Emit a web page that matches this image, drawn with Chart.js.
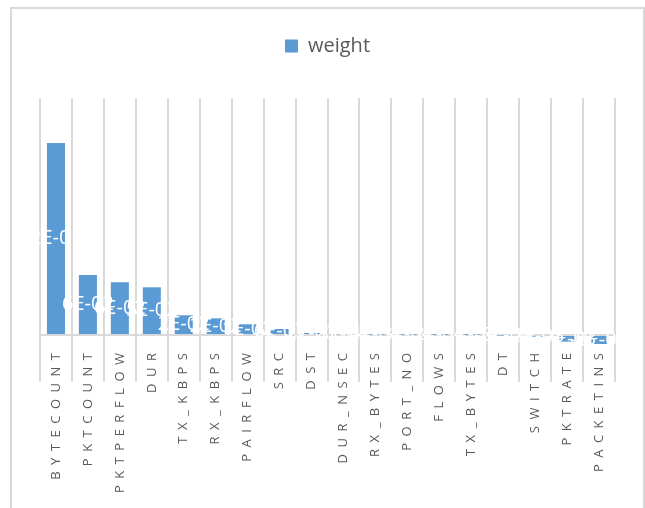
<!DOCTYPE html>
<html><head><meta charset="utf-8">
<script src="https://cdn.jsdelivr.net/npm/chart.js@4/dist/chart.umd.min.js"></script>
<style>
html,body{margin:0;padding:0;background:#fff;overflow:hidden}
#frame{position:absolute;left:10px;top:7px;width:635px;height:600px;box-sizing:border-box;border:2px solid #d9d9d9}
#c{position:absolute;left:0;top:0}
</style></head><body>
<div id="frame"></div>
<canvas id="c" width="645" height="508"></canvas>
<script>
const categories = ['BYTECOUNT','PKTCOUNT','PKTPERFLOW','DUR','TX_KBPS','RX_KBPS','PAIRFLOW','SRC','DST','DUR_NSEC','RX_BYTES','PORT_NO','FLOWS','TX_BYTES','DT','SWITCH','PKTRATE','PACKETINS'];
const weights = [0.2025, 0.0633, 0.0556, 0.0503, 0.0208, 0.0176, 0.0113, 0.0063, 0.0021, 0.0008, 0.0004, 0.0003, 0.0002, 0.0001, -0.0005, -0.0018, -0.007, -0.0095];
const seriesName = 'weight';
const yMin = -0.019;
const yMax = 0.25;

function sci(v) {
  if (v === 0) return '0E+00';
  let e = Math.floor(Math.log10(Math.abs(v)));
  let m = Math.round(v / Math.pow(10, e));
  if (Math.abs(m) >= 10) { m = m / 10; e += 1; }
  const es = (e < 0 ? '-' : '+') + String(Math.abs(e)).padStart(2, '0');
  return m + 'E' + es;
}

const labelPlugin = {
  id: 'barLabels',
  afterDatasetsDraw(chart) {
    const ctx = chart.ctx;
    const meta = chart.getDatasetMeta(0);
    ctx.save();
    ctx.font = '20px "Open Sans"';
    ctx.fillStyle = '#ffffff';
    ctx.textAlign = 'center';
    ctx.textBaseline = 'middle';
    meta.data.forEach((bar, i) => {
      const p = bar.getProps(['x', 'y', 'base'], true);
      ctx.fillText(sci(weights[i]), p.x, (p.y + p.base) / 2);
    });
    ctx.restore();
    ctx.letterSpacing = '6.5px';
  },
  afterDraw(chart) { chart.ctx.letterSpacing = '0px'; }
};

new Chart(document.getElementById('c'), {
  type: 'bar',
  data: {
    labels: categories,
    datasets: [{
      label: seriesName,
      data: weights,
      backgroundColor: '#5b9bd5',
      borderWidth: 0,
      categoryPercentage: 1,
      barPercentage: 0.565
    }]
  },
  options: {
    responsive: false,
    animation: false,
    layout: { padding: { top: 26, left: 40, right: 30, bottom: 0 } },
    plugins: {
      legend: {
        position: 'top',
        align: 'center',
        labels: { boxWidth: 13, boxHeight: 13, padding: 10, color: '#595959', font: { family: 'Open Sans', size: 20 } }
      },
      title: { display: true, text: '', weight: 500, padding: 0, font: { size: 10, lineHeight: 3.2 } },
      tooltip: { enabled: false }
    },
    scales: {
      x: {
        grid: { offset: true, color: '#d9d9d9', lineWidth: 2, drawTicks: true, tickLength: 29 },
        border: { display: false },
        ticks: { autoSkip: false, minRotation: 90, maxRotation: 90, padding: -35.5, color: '#595959', font: { family: 'Open Sans', size: 13 }, z: 1 },
        afterFit: s => { s.height = 155; }
      },
      y: {
        min: yMin, max: yMax,
        ticks: { display: false },
        grid: { drawTicks: false, lineWidth: 2, color: c => (c.tick && Math.abs(c.tick.value) < 1e-9) ? '#d9d9d9' : 'rgba(0,0,0,0)' },
        border: { display: false },
        afterBuildTicks: s => { s.ticks = [{ value: 0 }]; },
        afterFit: s => { s.width = 0; }
      }
    }
  },
  plugins: [labelPlugin]
});
</script>
</body></html>
